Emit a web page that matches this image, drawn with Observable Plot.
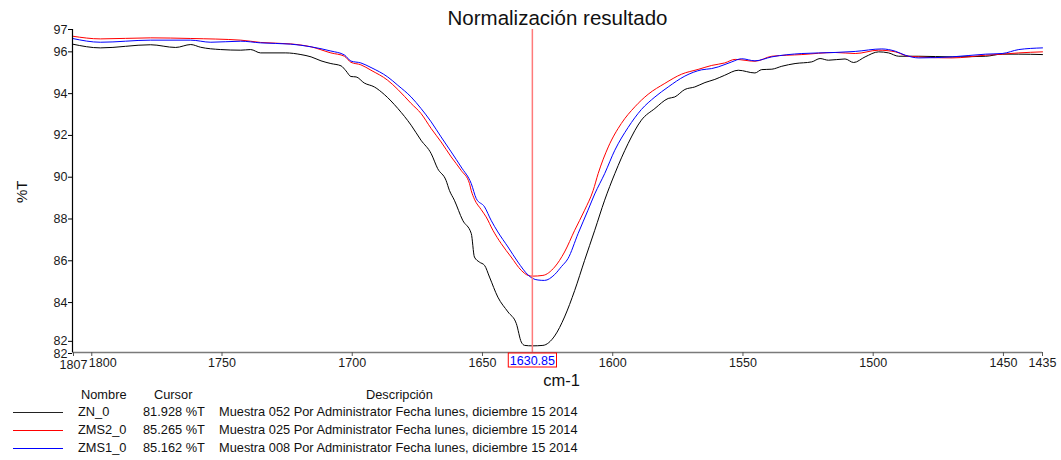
<!DOCTYPE html>
<html><head><meta charset="utf-8">
<script src="https://cdn.jsdelivr.net/npm/d3@7"></script>
<script src="https://cdn.jsdelivr.net/npm/@observablehq/plot@0.6"></script>
<style>
body{margin:0;background:#fff;font-family:"Liberation Sans",Arial,sans-serif;}
#wrap{position:relative;width:1061px;height:460px;overflow:hidden;}
#legend{position:absolute;left:0;top:0;width:1061px;height:460px;font-size:12.8px;color:#111;pointer-events:none;}
#legend .t{position:absolute;white-space:nowrap;line-height:1;transform:translateY(-50%);}
#legend .ln{position:absolute;height:0;border-top:1px solid;}
</style></head><body><div id="wrap"><div id="chart"></div><div id="legend"></div></div>
<script>
// ---- data ----
const seriesNames = ["ZN_0", "ZMS2_0", "ZMS1_0"];
const seriesColors = ["#000000", "#ff0000", "#0000ff"];
const cursorValues = ["81.928 %T", "85.265 %T", "85.162 %T"];
const descriptions = [
  "Muestra 052 Por Administrator Fecha lunes, diciembre 15 2014",
  "Muestra 025 Por Administrator Fecha lunes, diciembre 15 2014",
  "Muestra 008 Por Administrator Fecha lunes, diciembre 15 2014"
];
const legendHeaders = ["Nombre", "Cursor", "Descripción"];

const wnZN = [1807.4,1796.7,1777.4,1767.8,1762.0,1758.2,1750.5,1742.8,1739.0,1735.2,1725.5,1719.7,1715.8,1712.0,1708.2,1704.3,1702.4,1700.5,1698.5,1695.4,1691.5,1687.7,1682.5,1677.4,1673.6,1669.7,1667.2,1664.0,1662.7,1660.8,1657.6,1654.3,1653.1,1651.2,1649.2,1647.3,1644.1,1640.2,1637.0,1635.1,1633.8,1630.85,1626.8,1622.3,1618.5,1614.6,1610.8,1606.9,1603.1,1599.2,1594.1,1589.0,1583.8,1578.7,1576.2,1572.3,1568.5,1564.6,1560.8,1557.0,1551.8,1545.4,1542.8,1538.9,1535.1,1530.0,1523.6,1520.4,1517.2,1510.8,1507.5,1503.1,1497.9,1494.1,1490.2,1482.5,1469.7,1456.8,1450.5,1444.1,1435];
const tZN = [96.37,96.19,96.34,96.21,96.35,96.22,96.11,96.08,96.11,95.95,95.95,95.87,95.76,95.57,95.44,95.33,95.09,94.82,94.80,94.51,94.32,93.96,93.29,92.49,91.77,91.13,90.41,89.85,89.37,88.90,87.94,87.30,86.18,85.94,85.78,85.22,84.26,83.55,82.99,82.11,81.95,81.928,81.95,82.40,83.31,84.58,86.02,87.46,88.90,90.17,91.61,92.73,93.29,93.77,93.84,94.20,94.32,94.53,94.68,94.88,95.12,94.99,95.15,95.17,95.31,95.44,95.52,95.68,95.60,95.66,95.49,95.76,96.0,95.95,95.79,95.79,95.76,95.79,95.89,95.89,95.87];

const wnZMS2 = [1807.4,1796.7,1777.4,1762.0,1742.8,1735.2,1723.6,1715.8,1708.2,1703.0,1700.5,1696.7,1692.8,1686.4,1682.5,1677.4,1673.6,1669.7,1665.9,1662.0,1658.2,1655.0,1654.3,1653.1,1650.5,1648.6,1646.0,1642.8,1639.0,1635.1,1632.5,1630.85,1626.8,1622.3,1618.5,1614.6,1610.8,1607.5,1605.6,1601.7,1596.7,1591.5,1586.4,1580.0,1573.6,1567.2,1562.0,1557.0,1553.0,1545.4,1538.9,1527.4,1514.6,1506.9,1497.9,1491.5,1486.4,1469.7,1456.8,1450.5,1444.1,1435];
const tZMS2 = [96.75,96.62,96.67,96.64,96.56,96.45,96.38,96.24,95.95,95.79,95.50,95.38,95.12,94.64,94.20,93.53,93.05,92.33,91.69,90.97,90.33,89.70,89.35,88.95,88.45,88.10,87.46,86.82,86.18,85.54,85.30,85.265,85.30,85.70,86.42,87.46,88.42,89.37,90.17,91.45,92.57,93.37,93.97,94.49,94.93,95.16,95.35,95.47,95.64,95.55,95.79,95.87,95.97,95.92,96.08,96.0,95.79,95.71,95.84,95.89,95.95,96.0];

const wnZMS1 = [1807.4,1796.7,1777.4,1762.0,1754.3,1742.8,1735.2,1723.6,1715.8,1708.2,1703.0,1700.5,1696.7,1692.8,1686.4,1682.5,1677.4,1673.6,1669.7,1665.9,1662.0,1658.2,1654.3,1652.4,1649.2,1646.7,1644.1,1640.2,1636.4,1632.5,1630.85,1628.7,1626.2,1622.3,1619.7,1617.2,1613.3,1609.5,1606.9,1603.1,1599.2,1594.1,1589.0,1583.8,1578.7,1572.3,1565.9,1562.0,1559.5,1554.3,1550.5,1545.4,1538.9,1527.4,1514.6,1506.9,1496.7,1491.5,1487.7,1482.5,1469.7,1456.8,1450.5,1444.1,1435];
const tZMS1 = [96.64,96.46,96.56,96.56,96.46,96.51,96.43,96.37,96.24,96.04,95.85,95.56,95.47,95.25,94.80,94.40,93.84,93.29,92.65,91.93,91.21,90.49,89.69,88.98,88.58,87.94,87.38,86.66,85.94,85.32,85.162,85.08,85.06,85.34,85.72,86.10,87.30,88.42,89.20,90.17,91.29,92.38,93.24,93.84,94.32,94.84,95.14,95.20,95.28,95.52,95.67,95.57,95.76,95.92,95.97,96.02,96.14,96.03,95.84,95.71,95.76,95.89,95.92,96.11,96.19];

const xDomain = [1807.4, 1435];
const yDomain = [81.61, 97.07];
const xTicks = [1807.4, 1800, 1750, 1700, 1650, 1600, 1550, 1500, 1450, 1435];
const xTickLabels = ["1807", "1800", "1750", "1700", "1650", "1600", "1550", "1500", "1450", "1435"];
const yTicks = [81.61, 82, 84, 86, 88, 90, 92, 94, 96, 97.07];
const yTickLabels = ["82", "82", "84", "86", "88", "90", "92", "94", "96", "97"];
const cursorX = 1630.85;
const cursorLabel = "1630.85";
const titleText = "Normalización resultado";
const xLabel = "cm-1";
const yLabel = "%T";

// ---- build ----
const wns = [wnZN, wnZMS2, wnZMS1];
const ts = [tZN, tZMS2, tZMS1];
const rows = [];
seriesNames.forEach((name, s) => wns[s].forEach((w, i) => rows.push({name, w, t: ts[s][i]})));

const xFmt = d => xTickLabels[xTicks.indexOf(d)];
const yFmt = d => yTickLabels[yTicks.indexOf(d)];
const font = "Liberation Sans, Arial, sans-serif";
const yMainTicks = yTicks.filter(d => d !== yDomain[0] && d !== 82);
const xMainTicks = xTicks.filter(d => d !== 1800 && d !== xDomain[0]);

const chart = Plot.plot({
  width: 1061, height: 386,
  marginTop: 29, marginBottom: 34, marginLeft: 72, marginRight: 19,
  style: {fontFamily: font, fontSize: "12.5px", color: "#1a1a1a", background: "#fff", overflow: "visible"},
  x: {domain: xDomain},
  y: {domain: yDomain},
  color: {domain: seriesNames, range: seriesColors},
  marks: [
    Plot.line(rows, {x: "w", y: "t", z: "name", stroke: "name", strokeWidth: 1, curve: "monotone-x"}),
    Plot.ruleX([cursorX], {stroke: "#ff7a7a", strokeWidth: 1.5, y1: yDomain[0], y2: yDomain[1]}),
    Plot.ruleY([yDomain[0]], {stroke: "#7a7a7a", strokeWidth: 1.5}),
    Plot.ruleX([xDomain[0]], {stroke: "#000", strokeWidth: 1.2}),
    Plot.axisY({ticks: yMainTicks, tickFormat: yFmt, tickSize: 4, tickPadding: 1, label: null, stroke: "#000"}),
    Plot.axisY({ticks: [82], tickFormat: yFmt, tickSize: 4, tickPadding: 1, label: null, stroke: "#000", dy: -3}),
    Plot.axisY({ticks: [yDomain[0]], tickFormat: yFmt, tickSize: 4, tickPadding: 1, label: null, stroke: "#000", dy: 1}),
    Plot.axisX({ticks: xMainTicks, tickFormat: xFmt, tickSize: 4, tickPadding: 2, label: null, stroke: "#555"}),
    Plot.axisX({ticks: [xDomain[0]], tickFormat: xFmt, tickSize: 4, tickPadding: 4, dx: 1, label: null, stroke: "#555"}),
    Plot.axisX({ticks: [1800], tickFormat: xFmt, tickSize: 4, tickPadding: 2, label: null, stroke: "#555"}),
    Plot.axisX({ticks: [1800], tickFormat: xFmt, tickSize: 0, tickPadding: 6, dx: 11, label: null, stroke: "none"}),
    Plot.text([cursorLabel], {x: () => cursorX, frameAnchor: "bottom", dy: 8, lineAnchor: "middle", fill: "#0000ff", fontSize: 12.5}),
    Plot.text([titleText], {frameAnchor: "top", dy: -5, lineAnchor: "bottom", fontSize: 20.5, fill: "#111"}),
    Plot.text([xLabel], {frameAnchor: "bottom", dy: 28, dx: 4, lineAnchor: "middle", fontSize: 16.5, fill: "#111"}),
    Plot.text([yLabel], {frameAnchor: "left", dx: -50, dy: 12, rotate: -90, lineAnchor: "middle", fontSize: 15, fill: "#111"})
  ]
});
document.getElementById("chart").appendChild(chart);

// hide the duplicate 1800 label of the tick-only axis, keep shifted one
d3.select(chart).selectAll("text").filter(function() { return this.textContent === "1800"; })
  .each(function(d, i, nodes) { if (i === 0 && nodes.length > 1) this.textContent = ""; });

// box around the cursor label (placed in screen coords of the svg)
const svgBox = chart.getBoundingClientRect();
d3.select(chart).selectAll("text").filter(function() { return this.textContent === cursorLabel; }).each(function() {
  const b = this.getBoundingClientRect();
  const grp = this.closest("g") || this;
  d3.select(chart).insert("rect", () => grp)
    .attr("x", b.left - svgBox.left - 1.5).attr("y", 353)
    .attr("width", b.width + 3).attr("height", 14)
    .attr("fill", "#fff").attr("stroke", "#ff0000").attr("stroke-width", 1);
  chart.appendChild(grp);
});

// legend below the chart
const leg = d3.select("#legend");
const hdrX = [81, 154, 366];
const hdrY = 395;
legendHeaders.forEach((h, i) => leg.append("div").attr("class", "t").style("left", hdrX[i] + "px").style("top", hdrY + "px").text(h));
const rowY = [412, 430, 448];
seriesNames.forEach((n, i) => {
  leg.append("div").attr("class", "ln").style("left", "13px").style("width", "50px").style("top", rowY[i] + "px").style("border-color", seriesColors[i] === "#000000" ? "#222" : seriesColors[i]);
  leg.append("div").attr("class", "t").style("left", "78px").style("top", rowY[i] + "px").text(n);
  leg.append("div").attr("class", "t").style("left", "143px").style("top", rowY[i] + "px").text(cursorValues[i]);
  leg.append("div").attr("class", "t").style("left", "219px").style("top", rowY[i] + "px").text(descriptions[i]);
});
</script></body></html>
